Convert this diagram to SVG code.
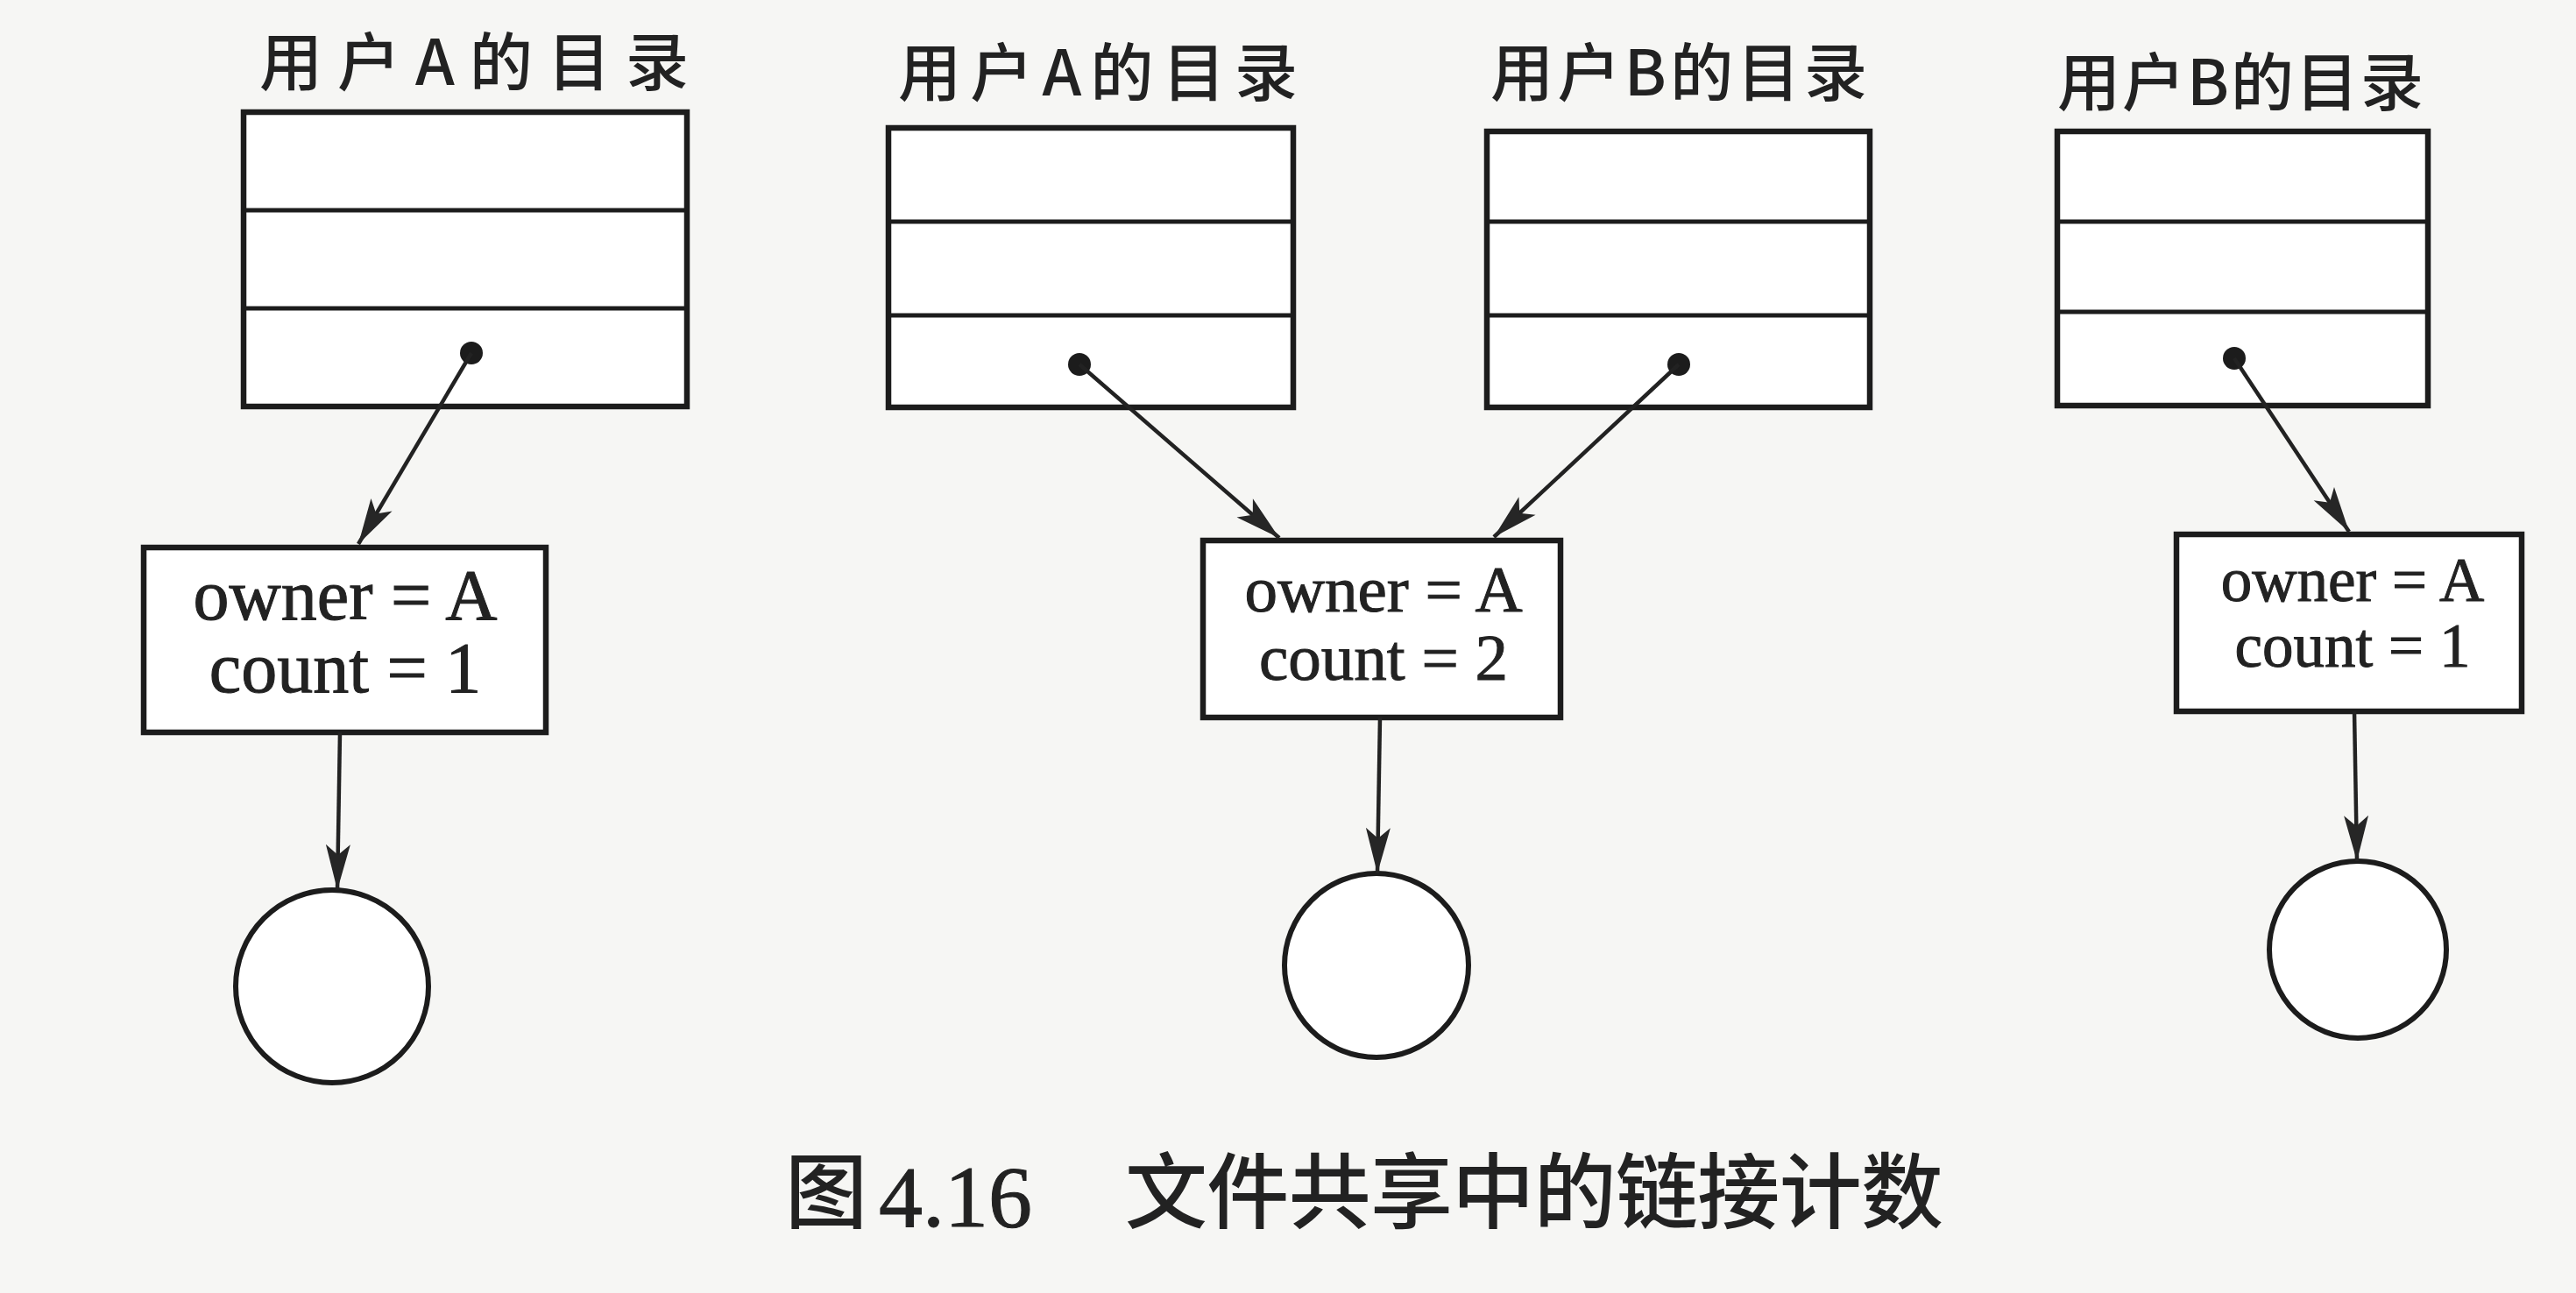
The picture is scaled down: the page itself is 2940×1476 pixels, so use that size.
<svg xmlns="http://www.w3.org/2000/svg" width="2940" height="1476" viewBox="0 0 2940 1476">
  <defs>
    <marker id="arr" viewBox="-54 -16 56 32" refX="0" refY="0" markerWidth="56" markerHeight="32" markerUnits="userSpaceOnUse" orient="auto">
      <path d="M0,0 L-52,-14 L-40,0 L-52,14 Z" fill="#262626"/>
    </marker>
    <style>
      .tbl { fill: #ffffff; stroke: #1c1c1c; stroke-width: 6.5; }
      .row { stroke: #1c1c1c; stroke-width: 5; }
      .box { fill: #ffffff; stroke: #1c1c1c; stroke-width: 6.5; }
      .file { fill: #ffffff; stroke: #1c1c1c; stroke-width: 6; }
      .dot { fill: #1c1c1c; }
      .link { stroke: #222; stroke-width: 4.5; fill: none; marker-end: url(#arr); }
      .title { font-family: "Noto Sans CJK SC", "Noto Sans", sans-serif; font-size: 72px; font-weight: 500; fill: #222; text-anchor: middle; }
      .lbl { font-family: "Liberation Serif", "Noto Sans CJK SC", serif; fill: #222; stroke: #222; stroke-width: 1; text-anchor: middle; }
      .cap { font-family: "Noto Sans CJK SC", "Noto Sans", sans-serif; font-size: 94px; font-weight: 500; fill: #222; }
      .num { font-family: "Liberation Serif", serif; font-size: 100px; fill: #222; stroke: #222; stroke-width: 1; }
    </style>
  </defs>
  <rect width="2940" height="1476" fill="#f6f6f4"/>

  <g id="dirA1">
    <text class="title" x="541" y="97" textLength="490" lengthAdjust="spacing">用户A的目录</text>
    <rect class="tbl" x="278" y="128" width="506" height="336"/>
    <line class="row" x1="278" y1="240" x2="784" y2="240"/>
    <line class="row" x1="278" y1="352" x2="784" y2="352"/>
    <circle class="dot" cx="538" cy="403" r="13"/>
  </g>

  <g id="dirA2">
    <text class="title" x="1253" y="109" textLength="456" lengthAdjust="spacing">用户A的目录</text>
    <rect class="tbl" x="1014" y="146" width="462" height="319"/>
    <line class="row" x1="1014" y1="253" x2="1476" y2="253"/>
    <line class="row" x1="1014" y1="360" x2="1476" y2="360"/>
    <circle class="dot" cx="1232" cy="416" r="13"/>
  </g>

  <g id="dirB1">
    <text class="title" x="1916" y="109" textLength="430" lengthAdjust="spacing">用户B的目录</text>
    <rect class="tbl" x="1697" y="150" width="437" height="315"/>
    <line class="row" x1="1697" y1="253" x2="2134" y2="253"/>
    <line class="row" x1="1697" y1="360" x2="2134" y2="360"/>
    <circle class="dot" cx="1916" cy="416" r="13"/>
  </g>

  <g id="dirB2">
    <text class="title" x="2557" y="120" textLength="418" lengthAdjust="spacing">用户B的目录</text>
    <rect class="tbl" x="2348" y="150" width="423" height="313"/>
    <line class="row" x1="2348" y1="253" x2="2771" y2="253"/>
    <line class="row" x1="2348" y1="356" x2="2771" y2="356"/>
    <circle class="dot" cx="2550" cy="409" r="13"/>
  </g>

  <g id="inode1">
    <rect class="box" x="164" y="625" width="459" height="211"/>
    <text class="lbl" x="394" y="707" font-size="82">owner = A</text>
    <text class="lbl" x="394" y="790" font-size="82">count = 1</text>
  </g>

  <g id="inode2">
    <rect class="box" x="1373" y="617" width="408" height="202"/>
    <text class="lbl" x="1579" y="698" font-size="75">owner = A</text>
    <text class="lbl" x="1579" y="776" font-size="75">count = 2</text>
  </g>

  <g id="inode3">
    <rect class="box" x="2484" y="610" width="394" height="202"/>
    <text class="lbl" x="2685" y="686" font-size="71">owner = A</text>
    <text class="lbl" x="2685" y="761" font-size="71">count = 1</text>
  </g>

  <g id="file1">
    <circle class="file" cx="379" cy="1126" r="110"/>
  </g>
  <g id="file2">
    <circle class="file" cx="1571" cy="1102" r="105"/>
  </g>
  <g id="file3">
    <circle class="file" cx="2691" cy="1084" r="101"/>
  </g>

  <g id="connectors">
    <line class="link" x1="538" y1="403" x2="409" y2="621"/>
    <line class="link" x1="1232" y1="416" x2="1460" y2="614"/>
    <line class="link" x1="1916" y1="416" x2="1705" y2="613"/>
    <line class="link" x1="2550" y1="409" x2="2681" y2="607"/>
    <line class="link" x1="388" y1="836" x2="385" y2="1016"/>
    <line class="link" x1="1575" y1="819" x2="1572" y2="997"/>
    <line class="link" x1="2687" y1="812" x2="2690" y2="983"/>
  </g>

  <g id="caption">
    <text class="cap" x="896" y="1395">图</text>
    <text class="num" x="1003" y="1400">4.16</text>
    <text class="cap" x="1284" y="1395" textLength="934" lengthAdjust="spacing">文件共享中的链接计数</text>
  </g>
</svg>
